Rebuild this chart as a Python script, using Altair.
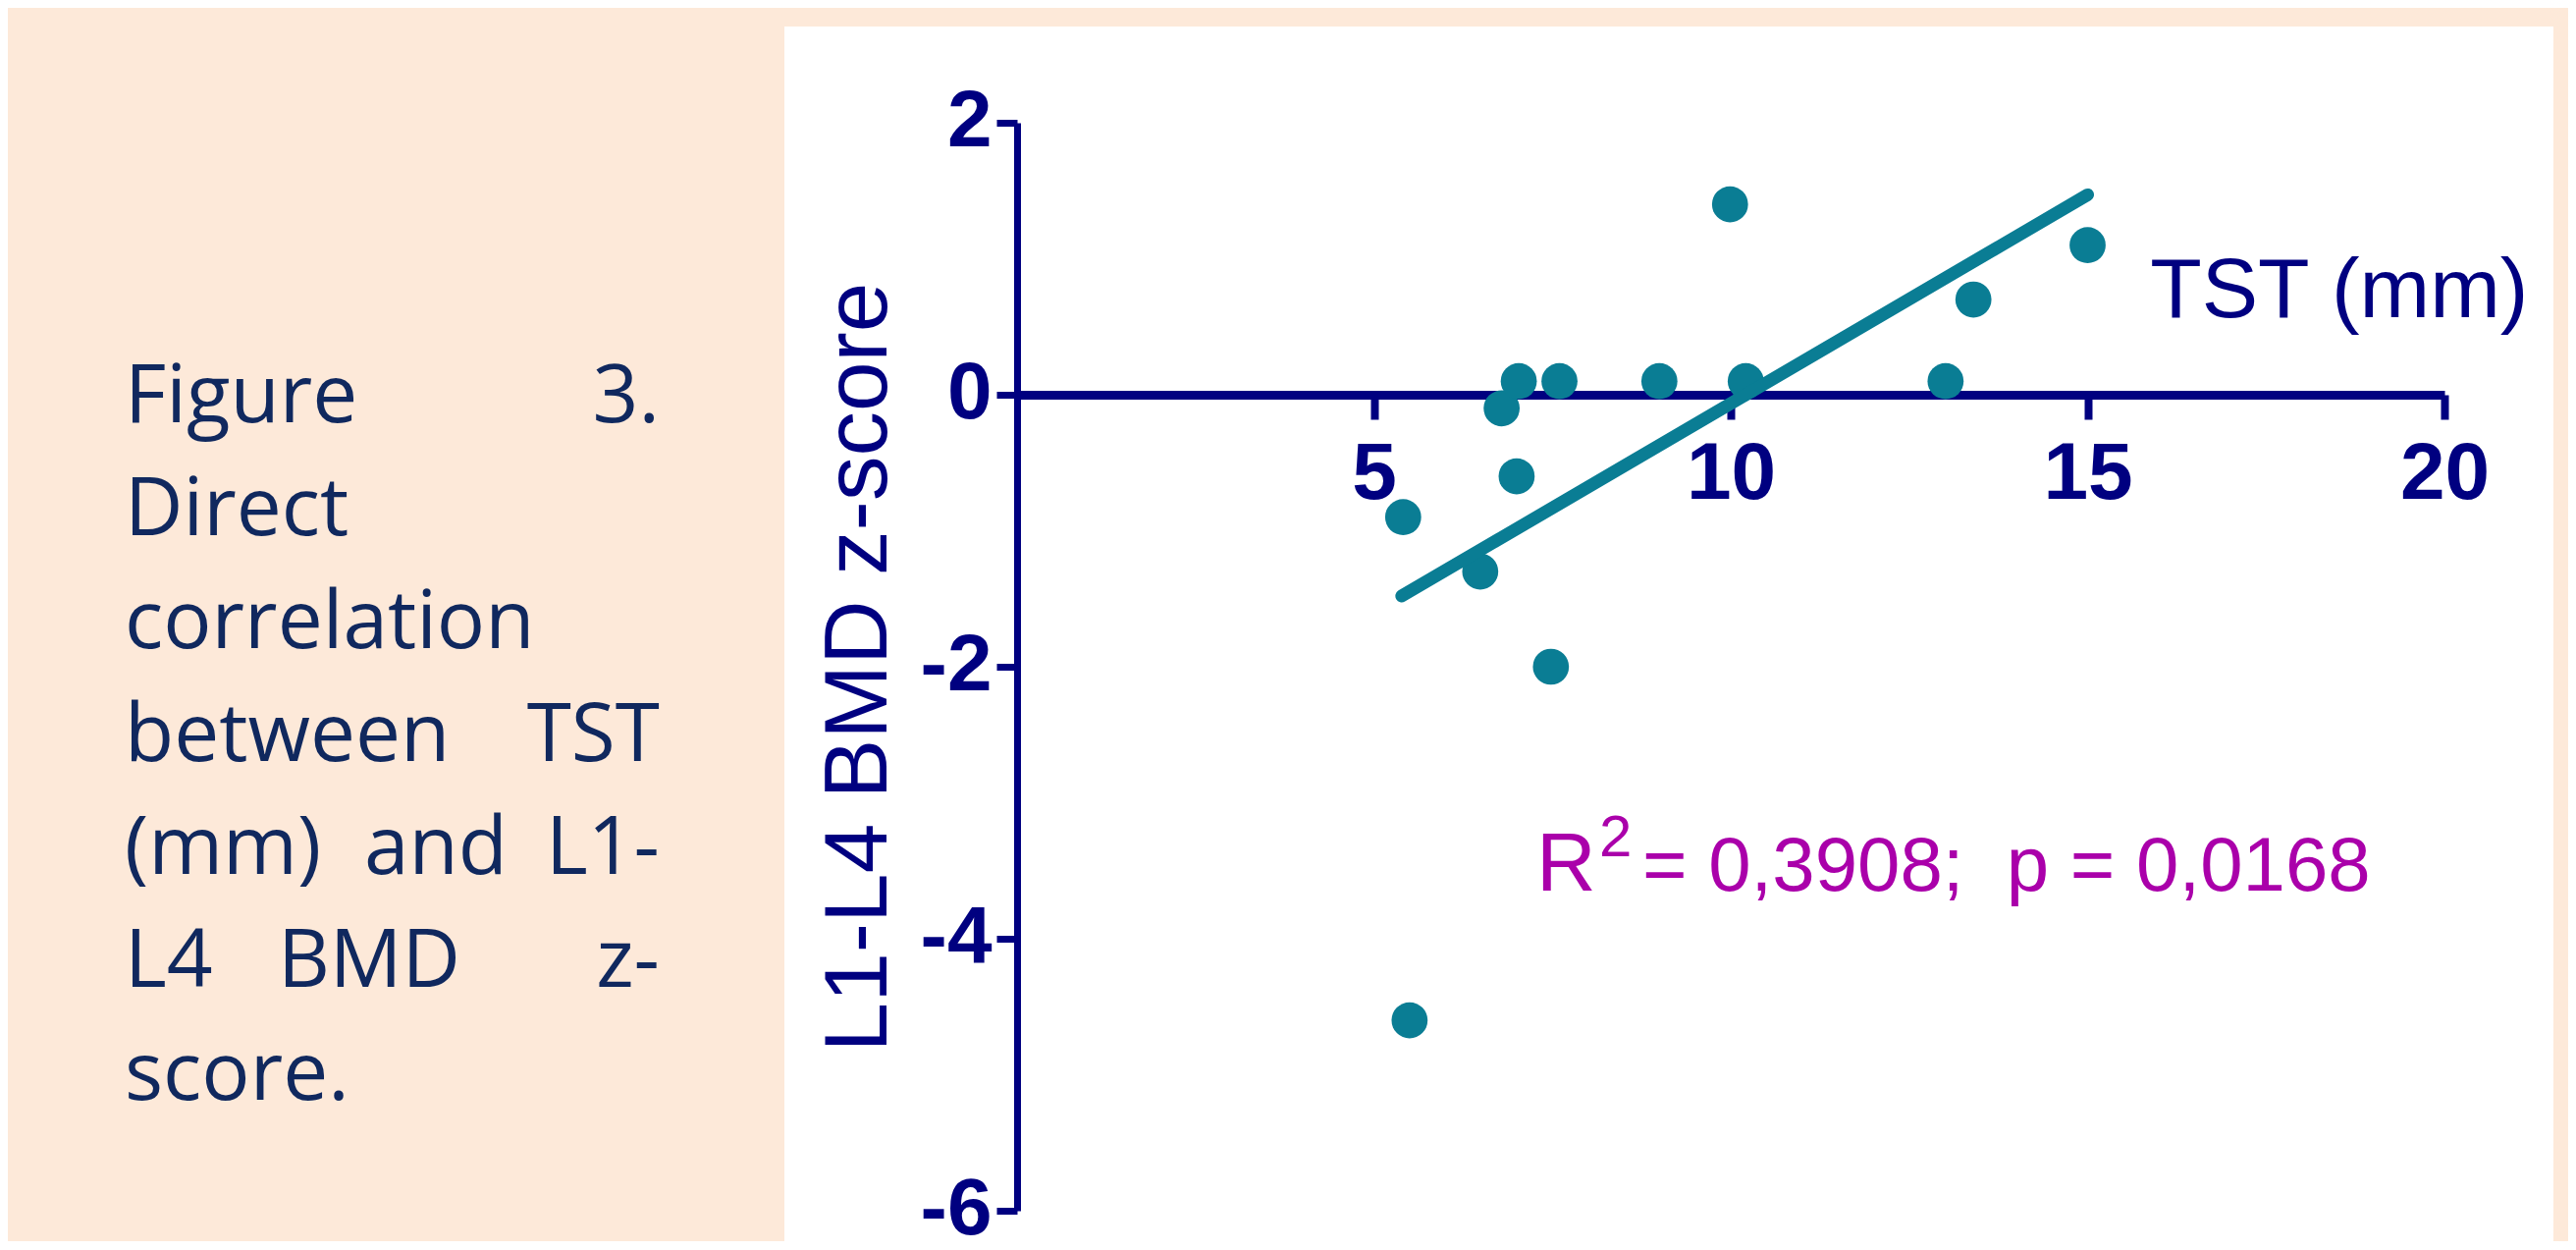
import altair as alt
import pandas as pd

# ---------------- data ----------------
tst_mm = [5.41, 5.50, 6.49, 6.79, 7.03, 7.00, 7.48, 7.60, 9.00, 9.99, 10.21, 13.01, 13.40, 15.00]
bmd_z = [-0.90, -4.60, -1.30, -0.10, 0.10, -0.60, -2.00, 0.10, 0.10, 1.40, 0.10, 0.10, 0.70, 1.10]
fit_x = [5.39, 15.00]
fit_y = [-1.48, 1.47]
x_ticks = [5, 10, 15, 20]
y_ticks = [-6, -4, -2, 0, 2]
x_title = "TST (mm)"
y_title = "L1-L4 BMD z-score"
stat_r = "R"
stat_sup = "2"
stat_rest = "= 0,3908;\u00a0 p = 0,0168"
caption_lines = [
    ["Figure", "3."],
    ["Direct"],
    ["correlation"],
    ["between", "TST"],
    ["(mm)", "and", "L1-"],
    ["L4", "BMD", "z-"],
    ["score."],
]

# ---------------- styles ----------------
NAVY = "#000080"
TEAL = "#0a7d94"
MAGENTA = "#aa00aa"
PEACH = "#fde9d9"
CAPTION_COLOR = "#10285e"
SANS = "Liberation Sans, Arial, sans-serif"
CAPTION_FONT = "Open Sans"

VIEW_W, VIEW_H = 1802, 1237
X_RANGE = [237, 1691]
Y_RANGE = [1206, 98]
X_AXIS_Y = 375  # pixel row of y = 0 in the view

x_scale = alt.Scale(domain=[0, 20], range=X_RANGE, nice=False, zero=False)
y_scale = alt.Scale(domain=[-6, 2], range=Y_RANGE, nice=False, zero=False)

x_axis = alt.Axis(
    values=x_ticks, orient="bottom", offset=-(VIEW_H - X_AXIS_Y),
    title=x_title, titleX=1776, titleY=-80, titleAlign="right",
    titleBaseline="alphabetic", titleAngle=0, titleFont=SANS,
    titleFontSize=86, titleFontWeight="normal", titleColor=NAVY,
    domainColor=NAVY, domainWidth=9, tickColor=NAVY, tickWidth=8, tickSize=25,
    labelFont=SANS, labelFontSize=82, labelFontWeight="bold", labelColor=NAVY,
    labelPadding=15, labelExpr="'' + datum.value", grid=False,
    labelFlush=False, labelOverlap=False,
)
y_axis = alt.Axis(
    values=y_ticks, orient="left", offset=-X_RANGE[0],
    title=y_title, titleX=-161, titleAngle=270, titleBaseline="middle",
    titleAlign="center", titleFont=SANS, titleFontSize=91,
    titleFontWeight="normal", titleColor=NAVY,
    domainColor=NAVY, domainWidth=7, tickColor=NAVY, tickWidth=7, tickSize=21,
    labelFont=SANS, labelFontSize=82, labelFontWeight="bold", labelColor=NAVY,
    labelPadding=5, labelOffset=-2, labelExpr="'' + datum.value", grid=False,
    labelFlush=False, labelOverlap=False,
)

pts_df = pd.DataFrame({"x": tst_mm, "y": bmd_z})
fit_df = pd.DataFrame({"x": fit_x, "y": fit_y})

points = alt.Chart(pts_df).mark_circle(size=1350, color=TEAL, opacity=1).encode(
    x=alt.X("x:Q", scale=x_scale, axis=x_axis),
    y=alt.Y("y:Q", scale=y_scale, axis=y_axis),
)
fit = alt.Chart(fit_df).mark_line(color=TEAL, strokeWidth=13, strokeCap="round").encode(
    x=alt.X("x:Q", scale=x_scale),
    y=alt.Y("y:Q", scale=y_scale),
)


def label(txt, px, py, size, color, font, align="left", weight="normal"):
    return alt.Chart(pd.DataFrame({"t": [txt]})).mark_text(
        align=align, baseline="alphabetic", fontSize=size, font=font,
        color=color, fontWeight=weight,
    ).encode(x=alt.value(px), y=alt.value(py), text=alt.Text("t:N"))


layers = [points, fit]
layers.append(label(stat_r, 766, 880, 84, MAGENTA, SANS))
layers.append(label(stat_sup, 830, 845, 60, MAGENTA, SANS))
layers.append(label(stat_rest, 874, 880, 78, MAGENTA, SANS))

# justified caption block (left of the white panel)
CAP_LEFT, CAP_RIGHT = -672, -127
CAP_TOP, CAP_STEP = 403, 115
middle_centers = {4: -355, 5: -423}
for i, words in enumerate(caption_lines):
    py = CAP_TOP + CAP_STEP * i
    layers.append(label(words[0], CAP_LEFT, py, 82, CAPTION_COLOR, CAPTION_FONT, "left"))
    if len(words) == 3:
        layers.append(label(words[1], middle_centers[i], py, 82, CAPTION_COLOR, CAPTION_FONT, "center"))
    if len(words) >= 2:
        layers.append(label(words[-1], CAP_RIGHT, py, 82, CAPTION_COLOR, CAPTION_FONT, "right"))

chart = alt.layer(*layers).properties(
    width=VIEW_W, height=VIEW_H,
    padding={"left": 791, "top": 19, "right": 15, "bottom": 0},
    autosize=alt.AutoSizeParams(type="none"),
    background=PEACH,
).configure_view(fill="white", stroke=None)

chart.save("out.html", embed_options={"renderer": "svg", "actions": False})
